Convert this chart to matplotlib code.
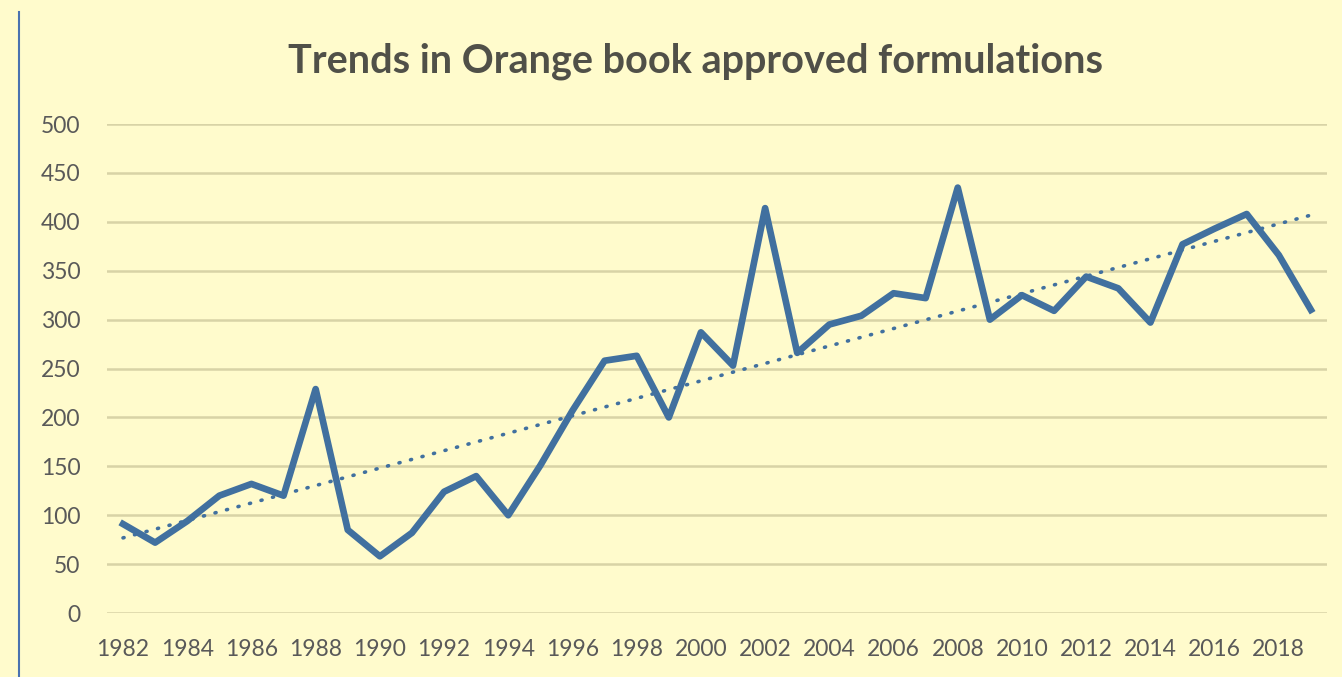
import numpy as np
import matplotlib.pyplot as plt
from matplotlib.lines import Line2D

# data
years = list(range(1982, 2020))
approvals = [91, 72, 94, 120, 132, 120, 229, 85, 58, 82,
             124, 140, 100, 151, 207, 258, 263, 200, 287, 253,
             414, 266, 295, 304, 327, 322, 435, 300, 325, 309,
             344, 332, 297, 377, 393, 408, 366, 310]
tick_years = list(range(1982, 2019, 2))
y_ticks = list(range(0, 501, 50))

bg = "#FFFBCC"
blue = "#41709F"
text_col = "#595959"

plt.rcParams["font.family"] = ["Lato", "DejaVu Sans"]

fig = plt.figure(figsize=(13.42, 6.77), dpi=100, facecolor=bg)
ax = fig.add_axes([0.0797, 0.0945, 0.9091, 0.7223])
ax.set_facecolor(bg)

x = np.array(years)
y = np.array(approvals)
slope, icpt = np.polyfit(x, y, 1)

ax.plot(x, slope * x + icpt, color=blue, lw=2.6, ls=(0, (0.3, 3.0)),
        dash_capstyle="round", zorder=3)
ax.plot(x, y, color=blue, lw=4.8, solid_joinstyle="round", zorder=4)

ax.set_xlim(1981.5, 2019.5)
ax.set_ylim(0, 500)
ax.set_yticks(y_ticks)
ax.set_xticks(tick_years)
ax.grid(axis="y", color="#D8D3A6", lw=1.8)
ax.set_axisbelow(True)
for s in ax.spines.values():
    s.set_visible(False)
ax.tick_params(length=0, colors=text_col, labelsize=16.5)
ax.tick_params(axis="x", pad=19)
ax.tick_params(axis="y", pad=19)

fig.text(0.518, 0.91, "Trends in Orange book approved formulations",
         ha="center", va="center", fontsize=28.5, fontweight="bold",
         color="#505048")

# thin blue border line on the left
fig.add_artist(Line2D([0.0142, 0.0142], [0.0, 0.982], color="#4A72B0",
                      lw=1.5, transform=fig.transFigure))

fig.savefig("out.png", dpi=100, facecolor=bg)
